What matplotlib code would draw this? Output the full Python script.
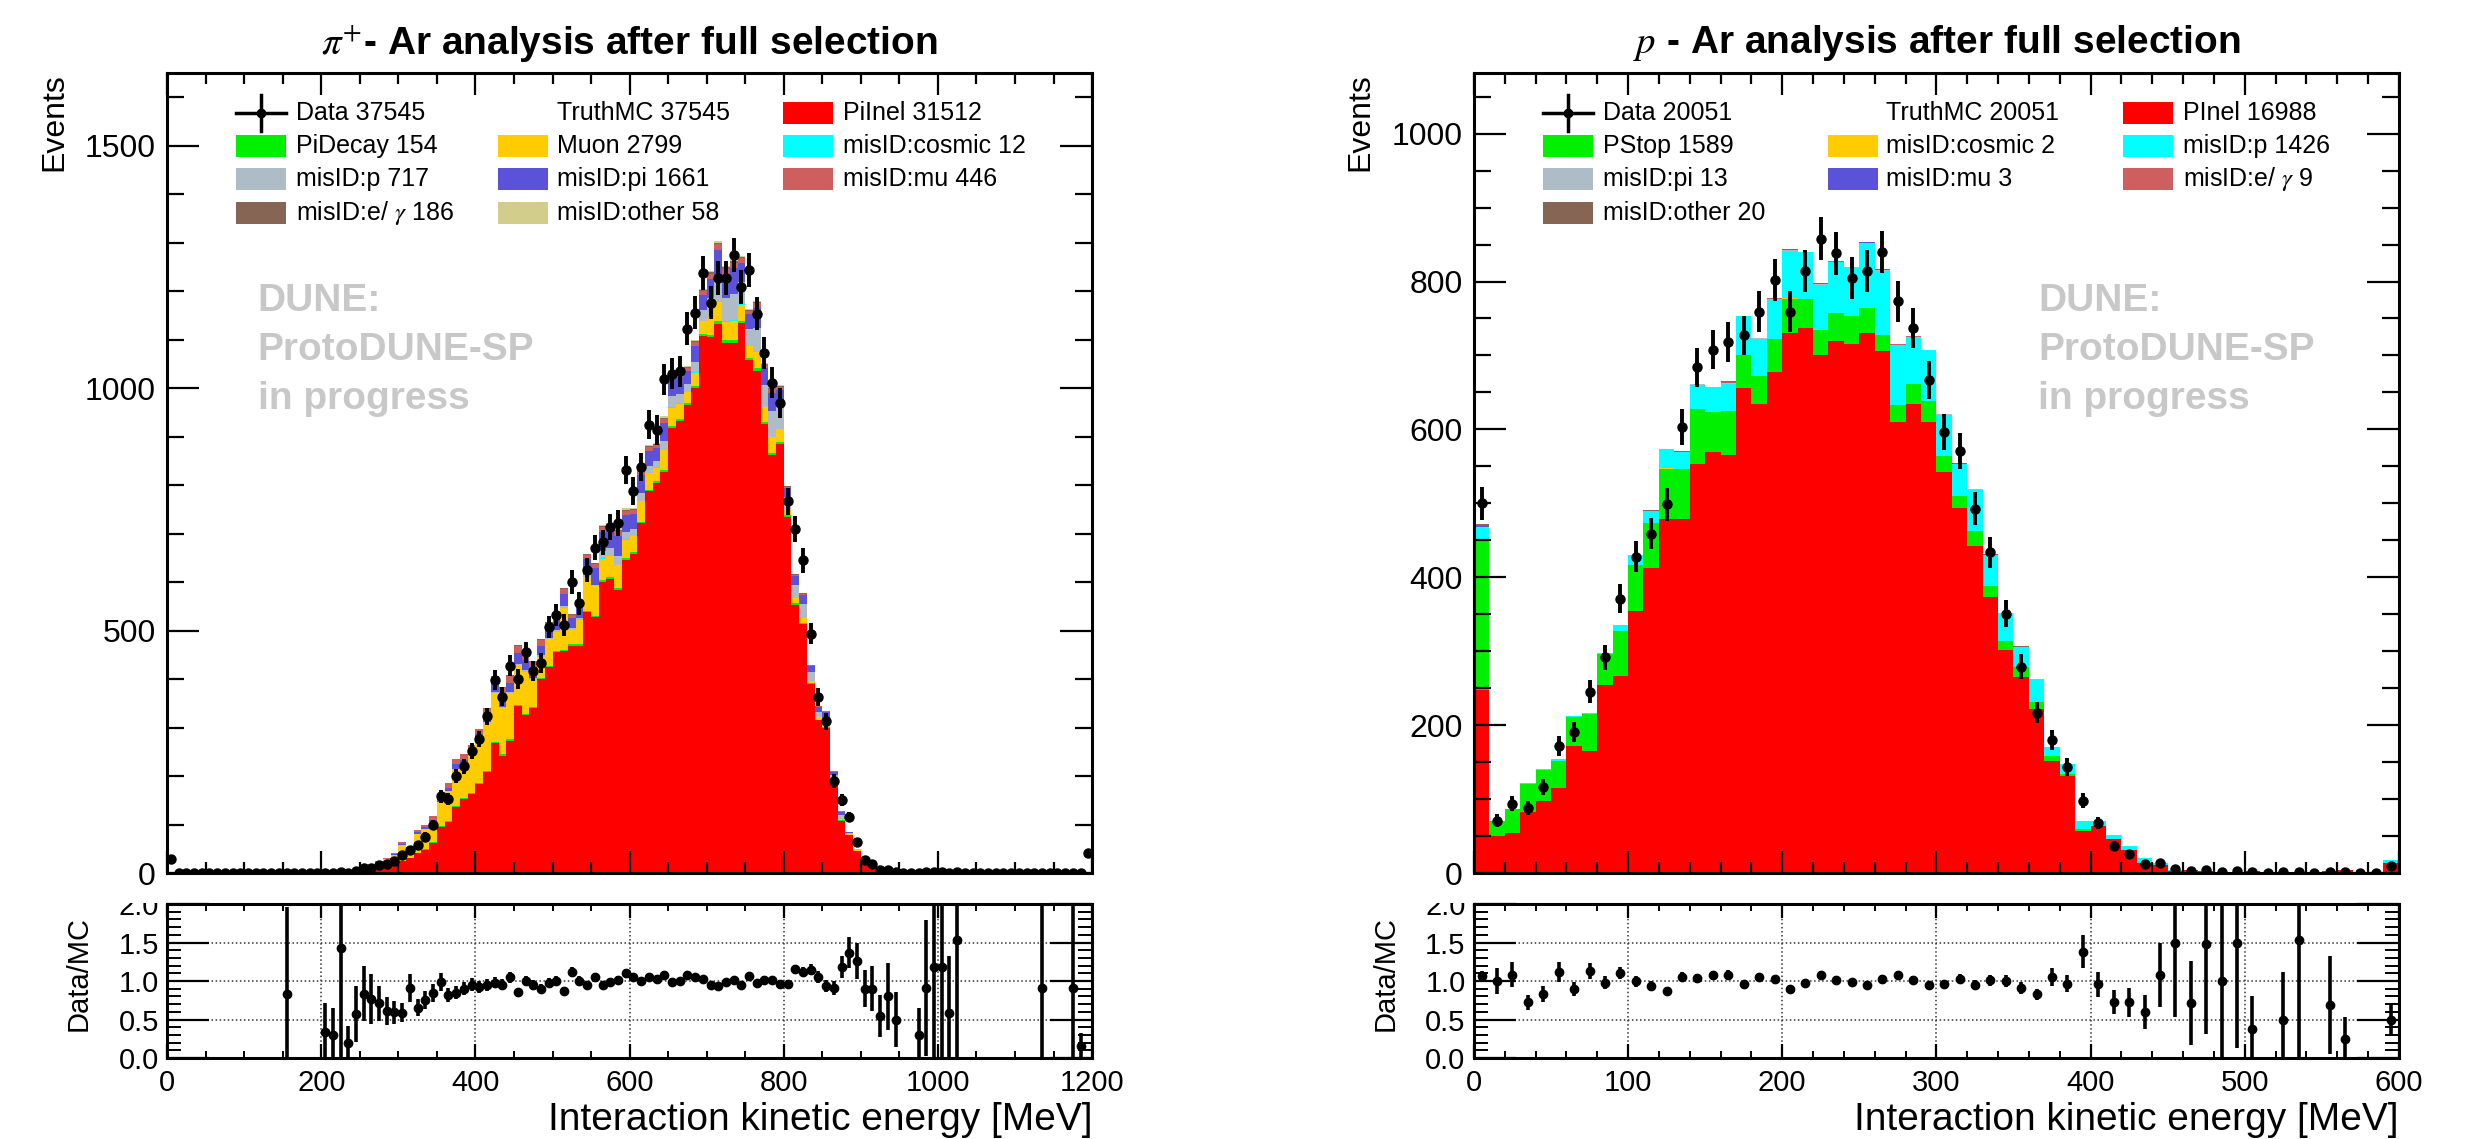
import numpy as np
import matplotlib
matplotlib.use("Agg")
import matplotlib.pyplot as plt
from matplotlib.patches import Rectangle
from matplotlib.lines import Line2D
from matplotlib.ticker import MultipleLocator, FormatStrFormatter

plt.rcParams['font.family'] = ['Liberation Sans', 'DejaVu Sans']
plt.rcParams['mathtext.fontset'] = 'stix'

# ---------------- pi+ - Ar (left), 10 MeV bins, 0-1200 MeV ----------------
pi_edges = np.arange(0, 1210, 10)

pi_inel = [2, 0, 0, 0, 0, 0, 0, 0, 0, 0,
           0, 0, 0, 0, 0, 0, 0, 0, 0, 0,
           1, 1.3, 0.6, 1.5, 2, 5, 7, 8, 10, 17,
           24, 31, 41, 48, 62, 95, 106, 136, 152, 162,
           183, 208, 268, 242, 273, 344, 326, 340, 400, 425,
           455, 458, 469, 469, 538, 528, 600, 607, 583, 645,
           659, 721, 787, 804, 828, 918, 932, 966, 1000, 1108,
           1105, 1133, 1094, 1094, 1134, 1058, 1036, 927, 863, 885,
           735, 553, 513, 389, 315, 300, 190, 108, 79, 46,
           27, 18, 10, 7, 5.5, 4, 3, 3.3, 2.2, 1.7,
           1.7, 1.7, 1.3, 0.8, 0.8, 0.8, 0.8, 0.8, 0.8, 0.8,
           0.8, 0.8, 0.8, 1.1, 0.8, 0.8, 0.8, 1.1, 6.5, 0]
pi_decay = [0, 0, 0, 0, 0, 0, 0, 0, 0, 0,
            0, 0, 0, 0, 0, 0, 0, 0, 0, 0,
            0, 0, 0, 0, 0, 0, 0, 1, 1, 1,
            1, 1, 1, 2, 2, 2, 2, 2, 2, 3,
            3, 3, 3, 3, 3, 3, 3, 3, 3, 3,
            3, 3, 3, 3, 3, 3, 4, 4, 4, 4,
            4, 4, 4, 4, 4, 4, 4, 4, 4, 4,
            5, 5, 5, 5, 5, 4, 5, 4, 4, 4,
            3, 3, 3, 2, 1, 1, 1, 1, 0, 0,
            0, 0, 0, 0, 0, 0, 0, 0, 0, 0,
            0, 0, 0, 0, 0, 0, 0, 0, 0, 0,
            0, 0, 0, 0, 0, 0, 0, 0, 0, 0]
pi_muon = [1, 0, 0, 0, 0, 0, 0, 0, 0, 0,
           0, 0, 0, 0, 0, 1.2, 0, 0, 0, 0,
           2, 2, 0.8, 3, 4.3, 5.5, 5, 13, 17, 20,
           32, 17, 39, 40, 42, 50, 61, 76, 72, 78,
           88, 98, 100, 96, 96, 82, 86, 56, 43, 55,
           40, 85, 30, 50, 70, 60, 44, 42, 48, 38,
           32, 42, 34, 28, 40, 38, 32, 22, 28, 26,
           35, 40, 38, 40, 33, 24, 33, 30, 32, 26,
           12, 12, 11, 6, 5, 6, 3, 3, 2, 1,
           0, 0, 0, 0, 0, 0, 0, 0, 0, 0,
           0, 0, 0, 0, 0, 0, 0, 0, 0, 0,
           0, 0, 0, 0, 0, 0, 0, 0, 0, 0]
pi_cosmic = [0, 0, 0, 0, 0, 0, 0, 0, 0, 0,
             0, 0, 0, 0, 0, 0, 0, 0, 0, 0,
             0, 0, 0, 0, 0, 0.5, 0, 0, 1, 0,
             0, 0, 0, 0, 0, 0, 0, 0, 0, 0,
             0, 0, 0, 0, 0, 0, 0, 0, 0, 0,
             0, 0, 0, 0, 0, 0, 1, 1, 1, 1,
             1, 1, 1, 1, 1, 1, 1, 1, 1, 1,
             1, 1, 1, 1, 1, 1, 1, 1, 1, 1,
             1, 0, 0, 0, 0, 0, 0, 0, 0, 0,
             0, 0, 0, 0, 0, 0, 0, 0, 0, 0,
             0, 0, 0, 0, 0, 0, 0, 0, 0, 0,
             0, 0, 0, 0, 0, 0, 0, 0, 0, 0]
pi_mis_p = [0, 0, 0, 0, 0, 0, 0, 0, 0, 0,
            0, 0, 0, 0, 0, 0, 0, 0, 0, 0,
            0, 0, 0, 0, 0, 0, 0, 0, 0, 0,
            0, 0, 0, 0, 0, 0, 1, 1, 1, 1,
            2, 2, 2, 2, 2, 3, 3, 4, 3, 2,
            3, 4, 3, 3, 4, 4, 16, 16, 18, 15,
            13, 16, 14, 12, 18, 22, 20, 16, 22, 22,
            40, 50, 48, 55, 45, 36, 50, 45, 52, 48,
            25, 26, 27, 18, 12, 13, 8, 8, 2, 2,
            2, 1, 1, 0.5, 0.5, 0, 0, 0, 0, 0,
            0, 0, 0, 0, 0, 0, 0, 0, 0, 0,
            0, 0, 0, 0, 0, 0, 0, 0, 0, 0]
pi_mis_pi = [0, 0, 0, 0, 0, 0, 0, 0, 0, 0,
             0, 0, 0, 0, 0, 0, 0, 0, 0, 0,
             0, 0, 0, 0, 0, 0, 0, 0.5, 0, 1,
             2, 1, 3, 4, 4, 5, 6, 9, 7, 9,
             10, 14, 18, 25, 18, 22, 22, 20, 20, 20,
             20, 25, 20, 22, 32, 35, 38, 37, 42, 35,
             31, 37, 31, 28, 37, 40, 34, 26, 33, 31,
             40, 55, 48, 52, 40, 30, 40, 35, 38, 32,
             18, 18, 19, 12, 10, 12, 6, 6, 1, 1,
             1, 1, 0, 0, 0, 0, 0, 0, 0, 0,
             0, 0, 0, 0, 0, 0, 0, 0, 0, 0,
             0, 0, 0, 0, 0, 0, 0, 0, 0, 0]
pi_mis_mu = [0, 0, 0, 0, 0, 0, 0, 0, 0, 0,
             0, 0, 0, 0, 0, 0, 0, 0, 0, 0,
             0, 0, 0, 0.5, 0.7, 1, 1, 1.5, 2, 3,
             4, 3, 5, 6, 8, 8, 10, 12, 11, 12,
             12, 14, 14, 13, 14, 14, 13, 13, 11, 10,
             9, 10, 8, 7, 8, 8, 10, 9, 10, 9,
             8, 9, 8, 6, 9, 9, 8, 6, 8, 8,
             10, 13, 12, 12, 10, 7, 10, 7, 8, 7,
             3, 3, 3, 2, 2, 2, 2, 2, 0, 0,
             0, 0, 0, 0, 0, 0, 0, 0, 0, 0,
             0, 0, 0, 0, 0, 0, 0, 0, 0, 0,
             0, 0, 0, 0, 0, 0, 0, 0, 0, 0]
pi_mis_eg = [0, 0, 0, 0, 0, 0, 0, 0, 0, 0,
             0, 0, 0, 0, 0, 0, 0, 0, 0, 0,
             0, 0, 0, 0, 0, 0, 0, 0, 0, 0,
             0, 0, 0, 0, 0, 0, 0, 0, 0, 0,
             0, 1, 1, 2, 2, 2, 2, 2, 2, 2,
             2, 2, 2, 2, 2, 2, 2, 2, 2, 2,
             2, 2, 2, 2, 2, 2, 2, 2, 2, 2,
             3, 3, 3, 3, 2, 1, 2, 1, 2, 1,
             1, 1, 1, 0, 0, 0, 0, 0, 0, 0,
             0, 0, 0, 0, 0, 0, 0, 0, 0, 0,
             0, 0, 0, 0, 0, 0, 0, 0, 0, 0,
             0, 0, 0, 0, 0, 0, 0, 0, 0, 0]
pi_mis_other = [0, 0, 0, 0, 0, 0, 0, 0, 0, 0,
                0, 0, 0, 0, 0, 0, 0, 0, 0, 0,
                0, 0, 0, 0, 0, 0, 0, 0, 0, 0,
                0, 0, 0, 0, 0, 0, 0, 0, 0, 0,
                0, 0, 0, 0, 0, 0, 0, 0, 0, 0,
                0, 0, 0, 0, 0, 0, 3, 3, 3, 3,
                2, 3, 2, 2, 3, 3, 2, 2, 2, 2,
                3, 4, 3, 4, 3, 2, 3, 2, 2, 2,
                1, 1, 1, 1, 0, 1, 0, 0, 0, 0,
                0, 0, 0, 0, 0, 0, 0, 0, 0, 0,
                0, 0, 0, 0, 0, 0, 0, 0, 0, 0,
                0, 0, 0, 0, 0, 0, 0, 0, 0, 0]
pi_data = [29, 0, 0, 0, 0, 0, 0, 0, 0, 0,
           0, 0, 0, 0, 0, 1, 0, 0, 0, 0,
           1, 1, 2, 1, 4, 10, 10, 17, 19, 25,
           37, 48, 58, 75, 100, 158, 152, 200, 220, 252,
           276, 323, 398, 364, 428, 400, 455, 416, 434, 507,
           532, 511, 600, 556, 625, 671, 682, 714, 721, 832,
           788, 838, 925, 914, 1018, 1030, 1035, 1123, 1156, 1238,
           1176, 1228, 1228, 1275, 1209, 1244, 1154, 1072, 1011, 970,
           767, 710, 645, 494, 363, 313, 190, 151, 115, 63,
           27, 18, 6, 6, 3, 0, 0, 1, 2, 2,
           2, 1, 2, 0, 0, 0, 0, 0, 0, 0,
           0, 0, 0, 1, 0, 0, 0, 1, 1, 41]

# ---------------- p - Ar (right), 10 MeV bins, 0-600 MeV ----------------
p_edges = np.arange(0, 610, 10)

p_inel = [248, 50, 54, 83, 98, 115, 172, 165, 254, 266,
          355, 413, 479, 479, 553, 570, 566, 656, 634, 678,
          731, 737, 700, 720, 716, 731, 706, 610, 634, 610,
          543, 494, 442, 373, 302, 265, 222, 151, 131, 57,
          63, 46, 31, 14, 11, 3, 3.5, 2.2, 2, 2,
          2.7, 0.8, 2, 1.3, 1, 2.9, 4, 1, 1, 13]
p_stop = [202, 21, 32, 38, 42, 37, 39, 50, 42, 62,
          61, 61, 68, 67, 74, 54, 59, 44, 38, 44,
          46, 40, 34, 38, 37, 33, 21, 23, 27, 29,
          21, 16, 20, 15, 12, 14, 9, 7, 3, 3,
          1, 0, 0, 0, 0, 0, 0, 0, 0, 0,
          0, 0, 0, 0, 0, 0, 0, 0, 0, 0]
p_cosmic = [0, 0, 0, 0, 0, 0, 0, 0, 0, 0,
            0, 0, 1, 0, 0, 0, 0, 0, 0, 0,
            1, 0, 0, 0, 0, 0, 0, 0, 0, 0,
            0, 0, 0, 0, 0, 0, 0, 0, 0, 0,
            0, 0, 0, 0, 0, 0, 0, 0, 0, 0,
            0, 0, 0, 0, 0, 0, 0, 0, 0, 0]
p_mis_p = [16, 0, 1, 1, 1, 2, 1, 2, 2, 7,
           14, 16, 25, 24, 33, 33, 37, 54, 50, 55,
           63, 63, 61, 69, 65, 88, 87, 81, 63, 68,
           56, 43, 56, 42, 38, 27, 32, 13, 14, 11,
           7, 5, 5, 6, 2, 1, 0.7, 0.5, 0, 0,
           0, 0, 0, 0, 0, 0, 0, 0, 0, 5]
p_mis_pi = [2, 0, 0, 0, 0, 0, 0, 0, 0, 0,
            0, 0, 0, 0, 1, 0, 1, 0, 1, 0,
            1, 0, 1, 0, 1, 0, 1, 0, 1, 0,
            1, 0, 1, 0, 0, 0, 0, 0, 0, 0,
            0, 0, 0, 0, 0, 0, 0, 0, 0, 0,
            0, 0, 0, 0, 0, 0, 0, 0, 0, 0]
p_mis_mu = [1, 0, 0, 0, 0, 0, 0, 0, 0, 0,
            0, 0, 0, 0, 0, 0, 0, 0, 0, 0,
            1, 0, 0, 0, 0, 1, 0, 0, 0, 0,
            0, 0, 0, 0, 0, 0, 0, 0, 0, 0,
            0, 0, 0, 0, 0, 0, 0, 0, 0, 0,
            0, 0, 0, 0, 0, 0, 0, 0, 0, 0]
p_mis_eg = [1, 0, 0, 0, 0, 0, 0, 0, 0, 0,
            0, 0, 0, 0, 0, 0, 1, 0, 0, 1,
            0, 0, 1, 1, 0, 1, 1, 1, 1, 0,
            0, 0, 0, 0, 0, 0, 0, 0, 0, 0,
            0, 0, 0, 0, 0, 0, 0, 0, 0, 0,
            0, 0, 0, 0, 0, 0, 0, 0, 0, 0]
p_mis_other = [2, 0, 0, 0, 0, 0, 0, 0, 0, 1,
               0, 1, 0, 1, 0, 1, 1, 0, 1, 0,
               1, 0, 1, 0, 1, 0, 1, 1, 0, 1,
               0, 1, 0, 1, 0, 1, 0, 0, 0, 0,
               0, 0, 0, 0, 0, 0, 0, 0, 0, 0,
               0, 0, 0, 0, 0, 0, 0, 0, 0, 0]
p_data = [500, 71, 94, 88, 117, 172, 191, 245, 292, 371,
          428, 459, 499, 603, 684, 708, 718, 727, 759, 802,
          759, 814, 858, 838, 805, 814, 840, 773, 737, 667,
          596, 571, 493, 434, 351, 279, 217, 180, 143, 98,
          68, 37, 26, 12, 14, 6, 3, 4, 2, 3,
          1, 0, 1, 2, 0, 2, 1, 0, 0, 9]

# colours of the stack, bottom to top
c_red, c_green, c_orange, c_cyan = '#ff0000', '#00f000', '#ffcc00', '#00ffff'
c_gray, c_blue, c_pink, c_brown, c_khaki = '#aebcc8', '#5a52d8', '#cf5e5e', '#876555', '#d3cd8c'

pi_stack = [(pi_inel, c_red), (pi_decay, c_green), (pi_muon, c_orange), (pi_cosmic, c_cyan),
            (pi_mis_p, c_gray), (pi_mis_pi, c_blue), (pi_mis_mu, c_pink),
            (pi_mis_eg, c_brown), (pi_mis_other, c_khaki)]
p_stack = [(p_inel, c_red), (p_stop, c_green), (p_cosmic, c_orange), (p_mis_p, c_cyan),
           (p_mis_pi, c_gray), (p_mis_mu, c_blue), (p_mis_eg, c_pink), (p_mis_other, c_brown)]

pi_legend = [('Data 37545', 'data'), ('TruthMC 37545', None), ('PiInel 31512', c_red),
             ('PiDecay 154', c_green), ('Muon 2799', c_orange), ('misID:cosmic 12', c_cyan),
             ('misID:p 717', c_gray), ('misID:pi 1661', c_blue), ('misID:mu 446', c_pink),
             (r'misID:e/ $\gamma$ 186', c_brown), ('misID:other 58', c_khaki)]
p_legend = [('Data 20051', 'data'), ('TruthMC 20051', None), ('PInel 16988', c_red),
            ('PStop 1589', c_green), ('misID:cosmic 2', c_orange), ('misID:p 1426', c_cyan),
            ('misID:pi 13', c_gray), ('misID:mu 3', c_blue), (r'misID:e/ $\gamma$ 9', c_pink),
            ('misID:other 20', c_brown)]


def draw_legend(ax, entries, box_x, text_x, rows_y, box_w, box_h):
    for i, (label, kind) in enumerate(entries):
        r, c = divmod(i, 3)
        y = rows_y[r]
        x0 = box_x[c]
        if kind == 'data':
            ax.add_line(Line2D([x0, x0 + box_w], [y, y], color='k', lw=2.5,
                               transform=ax.transAxes, clip_on=False))
            ax.add_line(Line2D([x0 + box_w / 2] * 2, [y - box_h * 0.8, y + box_h * 0.8], color='k',
                               lw=2.5, transform=ax.transAxes, clip_on=False))
            ax.plot([x0 + box_w / 2], [y], 'o', color='k', ms=6, transform=ax.transAxes, clip_on=False)
        elif kind is not None:
            ax.add_patch(Rectangle((x0, y - box_h / 2), box_w, box_h, facecolor=kind,
                                   edgecolor='none', transform=ax.transAxes, clip_on=False))
        ax.text(text_x[c], y, label, transform=ax.transAxes, ha='left', va='center', fontsize=18)


def draw_panel(ax, axr, edges, stack, data, ymax, title, legend, box_x, text_x,
               major_x, minor_x, major_y, minor_y, dune_x):
    centers = 0.5 * (edges[:-1] + edges[1:])
    bottom = np.zeros(len(centers))
    for vals, col in stack:
        top = bottom + np.array(vals, dtype=float)
        ax.stairs(top, edges, baseline=bottom, fill=True, color=col, lw=0)
        bottom = top
    mc = bottom
    d = np.array(data, dtype=float)
    ax.errorbar(centers, d, yerr=np.sqrt(d), fmt='o', color='k', ms=6.5, elinewidth=2.8,
                capsize=0, zorder=5)
    ax.set_xlim(edges[0], edges[-1])
    ax.set_ylim(0, ymax)
    ax.tick_params(labelbottom=False)
    ax.xaxis.set_major_locator(MultipleLocator(major_x))
    ax.xaxis.set_minor_locator(MultipleLocator(minor_x))
    ax.yaxis.set_major_locator(MultipleLocator(major_y))
    ax.yaxis.set_minor_locator(MultipleLocator(minor_y))
    ax.tick_params(axis='y', which='major', direction='in', length=23, width=1.6,
                   left=True, right=True, labelsize=23, pad=8)
    ax.tick_params(axis='y', which='minor', direction='in', length=12, width=1.6, left=True, right=True)
    ax.tick_params(axis='x', which='major', direction='in', length=16, width=1.6, top=True, bottom=True)
    ax.tick_params(axis='x', which='minor', direction='in', length=8, width=1.6, top=True, bottom=True)
    ax.set_ylabel('Events', fontsize=23, loc='top')
    ax.yaxis.set_label_coords(-0.106, 1.0)
    ax.text(0.5, 1.0375, title, transform=ax.transAxes, ha='center', va='center',
            fontsize=28, fontweight='bold')
    for txt, yb in zip(['DUNE:', 'ProtoDUNE-SP', 'in progress'], [0.702, 0.641, 0.580]):
        ax.text(dune_x, yb, txt, transform=ax.transAxes, ha='left', va='baseline',
                fontsize=28, fontweight='bold', color='#c8c8c8')
    draw_legend(ax, legend, box_x, text_x, [0.95, 0.909, 0.8675, 0.825], 0.054, 0.0275)

    # ratio pad
    ok = (d > 0) & (mc > 0)
    ratio = d[ok] / mc[ok]
    err = ratio * np.sqrt(1.0 / d[ok] + 1.0 / mc[ok])
    axr.errorbar(centers[ok], ratio, yerr=err, fmt='o', color='k', ms=6, elinewidth=2.6,
                 capsize=0, zorder=5)
    axr.set_xlim(edges[0], edges[-1])
    axr.set_ylim(0, 2)
    axr.xaxis.set_major_locator(MultipleLocator(major_x))
    axr.xaxis.set_minor_locator(MultipleLocator(minor_x))
    axr.yaxis.set_major_locator(MultipleLocator(0.5))
    axr.yaxis.set_minor_locator(MultipleLocator(0.1))
    axr.yaxis.set_major_formatter(FormatStrFormatter('%.1f'))
    axr.grid(True, which='major', linestyle=':', color='#333333', lw=1.1)
    axr.tick_params(axis='y', which='major', direction='in', length=30, width=1.6,
                    left=True, right=True, labelsize=21, pad=6)
    axr.tick_params(axis='y', which='minor', direction='in', length=10, width=1.4, left=True, right=True)
    axr.tick_params(axis='x', which='major', direction='in', length=10, width=1.6, top=True,
                    bottom=True, labelsize=21, pad=8)
    axr.tick_params(axis='x', which='minor', direction='in', length=5, width=1.4, top=True, bottom=True)
    axr.set_ylabel('Data/MC', fontsize=21, loc='top')
    axr.yaxis.set_label_coords(-0.08, 0.92)
    axr.set_xlabel('Interaction kinetic energy [MeV]', fontsize=28, loc='right')
    axr.xaxis.set_label_coords(1.0, -0.40)
    axr.xaxis.label.set_va('center')
    for a in (ax, axr):
        for s in a.spines.values():
            s.set_linewidth(2.2)


fig = plt.figure(figsize=(24.68, 11.39), dpi=100)
ax1 = fig.add_axes([0.0677, 0.2335, 0.3748, 0.7024])
ax1r = fig.add_axes([0.0677, 0.0711, 0.3748, 0.1352])
ax2 = fig.add_axes([0.5972, 0.2335, 0.3748, 0.7024])
ax2r = fig.add_axes([0.5972, 0.0711, 0.3748, 0.1352])

draw_panel(ax1, ax1r, pi_edges, pi_stack, pi_data, 1650,
           r'$\pi^{+}$- Ar analysis after full selection', pi_legend,
           [0.0746, 0.358, 0.666], [0.139, 0.4216, 0.731], 200, 50, 500, 100, 0.098)
draw_panel(ax2, ax2r, p_edges, p_stack, p_data, 1082,
           r'$p$ - Ar analysis after full selection', p_legend,
           [0.0746, 0.3827, 0.7016], [0.1395, 0.4454, 0.7665], 100, 20, 200, 50, 0.61)

# the pad above hides the upper half of the "2.0" label
for x0 in (0.02, 0.55):
    fig.add_artist(Rectangle((x0, 0.2068), 0.046, 0.0095, transform=fig.transFigure,
                             facecolor='white', edgecolor='none', zorder=10))

fig.savefig('out.png', dpi=100, facecolor='white')
